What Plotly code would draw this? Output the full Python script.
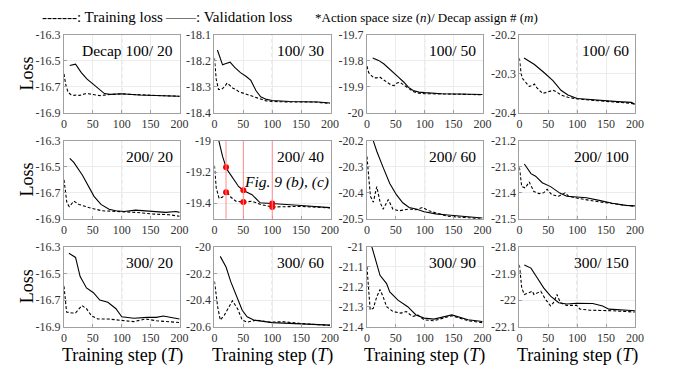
import plotly.graph_objects as go
import numpy as np

# ---------------- data ----------------
labels = ["Decap 100/ 20", "100/ 30", "100/ 50", "100/ 60",
          "200/ 20", "200/ 40", "200/ 60", "200/ 100",
          "300/ 20", "300/ 60", "300/ 90", "300/ 150"]

# 100/20
val_x_100_20 = [10, 20, 30, 40, 50, 60, 70, 80, 100, 130, 160, 190, 200]
val_y_100_20 = [-16.535, -16.525, -16.59, -16.64, -16.677, -16.714, -16.751, -16.757, -16.753, -16.762, -16.766, -16.77, -16.772]
tr_x_100_20 = [0, 3, 7, 12, 17, 22, 27, 32, 37, 42, 47, 52, 57, 62, 70, 80, 100, 130, 160, 190, 200]
tr_y_100_20 = [-16.60, -16.68, -16.74, -16.76, -16.765, -16.762, -16.765, -16.758, -16.752, -16.752, -16.757, -16.76, -16.765, -16.767, -16.763, -16.758, -16.754, -16.762, -16.766, -16.77, -16.773]
# 100/30
val_x_100_30 = [5, 14, 20, 27, 35, 45, 55, 63, 72, 80, 90, 100, 130, 160, 180, 200]
val_y_100_30 = [-18.158, -18.215, -18.21, -18.205, -18.225, -18.245, -18.26, -18.275, -18.315, -18.338, -18.348, -18.352, -18.356, -18.356, -18.358, -18.362]
tr_x_100_30 = [0, 3, 7, 12, 17, 22, 27, 32, 37, 42, 47, 52, 57, 62, 70, 80, 90, 100, 115, 130, 145, 160, 175, 190, 200]
tr_y_100_30 = [-18.19, -18.27, -18.31, -18.31, -18.30, -18.285, -18.295, -18.305, -18.31, -18.318, -18.322, -18.326, -18.33, -18.334, -18.34, -18.348, -18.354, -18.356, -18.358, -18.358, -18.358, -18.357, -18.358, -18.362, -18.363]
# 100/50
val_x_100_50 = [10, 20, 29, 37, 46, 55, 64, 72, 80, 90, 100, 130, 160, 190, 200]
val_y_100_50 = [-19.789, -19.798, -19.811, -19.826, -19.845, -19.863, -19.882, -19.902, -19.914, -19.92, -19.922, -19.926, -19.927, -19.928, -19.929]
tr_x_100_50 = [0, 3, 7, 12, 17, 22, 27, 32, 37, 42, 47, 52, 57, 62, 70, 80, 90, 100, 130, 160, 190, 200]
tr_y_100_50 = [-19.82, -19.845, -19.855, -19.865, -19.865, -19.862, -19.87, -19.878, -19.885, -19.893, -19.895, -19.885, -19.882, -19.89, -19.905, -19.918, -19.924, -19.926, -19.927, -19.928, -19.929, -19.93]
# 100/60
val_x_100_60 = [8, 26, 43, 58, 72, 84, 100, 130, 170, 194, 200]
val_y_100_60 = [-20.259, -20.276, -20.297, -20.317, -20.342, -20.354, -20.363, -20.367, -20.371, -20.373, -20.378]
tr_x_100_60 = [0, 3, 6, 12, 17, 22, 26, 30, 35, 40, 45, 49, 54, 58, 64, 72, 84, 100, 130, 170, 190, 200]
tr_y_100_60 = [-20.26, -20.30, -20.313, -20.322, -20.332, -20.33, -20.326, -20.335, -20.342, -20.35, -20.348, -20.346, -20.343, -20.342, -20.346, -20.354, -20.36, -20.364, -20.368, -20.372, -20.375, -20.377]
# 200/20
val_x_200_20 = [10, 17, 32, 43, 52, 64, 78, 90, 104, 124, 153, 176, 194, 200]
val_y_200_20 = [-16.434, -16.466, -16.565, -16.652, -16.727, -16.789, -16.826, -16.838, -16.843, -16.833, -16.843, -16.85, -16.843, -16.85]
tr_x_200_20 = [0, 5, 9, 17, 26, 43, 66, 101, 124, 153, 182, 200]
tr_y_200_20 = [-16.60, -16.776, -16.806, -16.764, -16.789, -16.813, -16.838, -16.846, -16.85, -16.863, -16.868, -16.88]
# 200/40
val_x_200_40 = [5, 14, 21, 31, 42, 51, 65, 79, 100, 150, 200]
val_y_200_40 = [-18.96, -19.1, -19.18, -19.232, -19.294, -19.32, -19.345, -19.397, -19.401, -19.414, -19.428]
tr_x_200_40 = [0, 3, 8, 14, 21, 28, 37, 51, 65, 79, 100, 150, 200]
tr_y_200_40 = [-19.16, -19.30, -19.37, -19.36, -19.325, -19.36, -19.387, -19.393, -19.387, -19.407, -19.424, -19.42, -19.43]
mark_steps_200_40 = [20, 50, 100]
# 200/60
val_x_200_60 = [8, 17, 28, 39.5, 51, 62, 73, 85, 99, 119, 140, 170, 200]
val_y_200_60 = [-20.18, -20.24, -20.302, -20.364, -20.407, -20.438, -20.456, -20.462, -20.473, -20.481, -20.485, -20.492, -20.497]
tr_x_200_60 = [0, 3, 6, 11, 17, 23, 28, 37, 45, 56, 73, 85, 96, 107, 119, 140, 170, 200]
tr_y_200_60 = [-20.26, -20.35, -20.413, -20.436, -20.376, -20.438, -20.463, -20.426, -20.463, -20.469, -20.462, -20.465, -20.456, -20.469, -20.477, -20.49, -20.495, -20.5]
# 200/100
val_x_200_100 = [8.5, 20, 28, 39.5, 54, 70, 82, 99, 116, 138, 161, 184, 200]
val_y_200_100 = [-21.289, -21.326, -21.336, -21.361, -21.376, -21.401, -21.413, -21.417, -21.419, -21.429, -21.44, -21.448, -21.45]
tr_x_200_100 = [0, 4, 10, 17, 25, 34, 42, 48, 56, 68, 79, 85, 99, 130, 170, 200]
tr_y_200_100 = [-21.302, -21.376, -21.381, -21.358, -21.395, -21.403, -21.4, -21.386, -21.407, -21.413, -21.4, -21.413, -21.42, -21.432, -21.444, -21.452]
# 300/20
val_x_300_20 = [8.5, 20, 28, 39, 51, 62, 76, 90, 100, 121, 144, 160, 172, 200]
val_y_300_20 = [-16.348, -16.38, -16.524, -16.609, -16.645, -16.7, -16.717, -16.765, -16.825, -16.837, -16.83, -16.83, -16.82, -16.842]
tr_x_300_20 = [0, 4.5, 14, 20, 31, 39, 48, 59, 76, 100, 121, 141, 160, 200]
tr_y_300_20 = [-16.596, -16.79, -16.797, -16.797, -16.741, -16.765, -16.82, -16.842, -16.842, -16.85, -16.862, -16.842, -16.855, -16.869]
# 300/60
val_x_300_60 = [10, 20, 28, 40, 48, 56.5, 68, 100, 152, 200]
val_y_300_60 = [-20.072, -20.152, -20.26, -20.393, -20.477, -20.526, -20.55, -20.569, -20.581, -20.588]
tr_x_300_60 = [0, 5.6, 10, 17, 25, 31, 40, 48, 56.5, 73, 96, 118, 152, 200]
tr_y_300_60 = [-20.26, -20.453, -20.55, -20.513, -20.453, -20.405, -20.465, -20.55, -20.566, -20.55, -20.566, -20.562, -20.577, -20.59]
# 300/90
val_x_300_90 = [8.5, 17, 22.6, 34, 39.5, 53.7, 70.6, 85, 99, 116, 147, 175, 200]
val_y_300_90 = [-21.0, -21.085, -21.143, -21.184, -21.226, -21.267, -21.3, -21.341, -21.357, -21.362, -21.341, -21.365, -21.374]
tr_x_300_90 = [0, 3, 5.6, 11, 17, 22.6, 28, 34, 45, 59, 68, 79, 88, 99, 116, 147, 175, 200]
tr_y_300_90 = [-21.1, -21.25, -21.316, -21.308, -21.25, -21.214, -21.25, -21.3, -21.324, -21.332, -21.324, -21.349, -21.341, -21.366, -21.37, -21.345, -21.37, -21.38]
# 300/150
val_x_300_150 = [8.5, 20, 31, 42, 54, 68, 82, 99, 127, 144, 155, 178, 200]
val_y_300_150 = [-21.868, -21.88, -21.917, -21.954, -21.985, -22.01, -22.015, -22.012, -22.013, -22.022, -22.034, -22.038, -22.04]
tr_x_300_150 = [0, 4, 8.5, 17, 22.6, 25, 37, 45, 54, 59, 65, 71, 82, 99, 105, 122, 139, 160, 200]
tr_y_300_150 = [-21.868, -21.954, -21.979, -21.973, -21.967, -21.979, -21.967, -21.997, -22.022, -22.01, -21.979, -22.01, -22.02, -22.02, -22.034, -22.038, -22.038, -22.04, -22.045]

y_ranges = [[-16.9, -16.3], [-18.4, -18.1], [-20.0, -19.7], [-20.4, -20.2],
            [-16.9, -16.3], [-19.5, -19.0], [-20.5, -20.2], [-21.5, -21.2],
            [-16.9, -16.3], [-20.6, -20.0], [-21.4, -21.0], [-22.1, -21.8]]
y_ticks = [["-16.3", "-16.5", "-16.7", "-16.9"], ["-18.1", "-18.2", "-18.3", "-18.4"],
           ["-19.7", "-19.8", "-19.9", "-20"], ["-20.2", "-20.3", "-20.4"],
           ["-16.3", "-16.5", "-16.7", "-16.9"], ["-19", "-19.2", "-19.4"],
           ["-20.2", "-20.3", "-20.4", "-20.5"], ["-21.2", "-21.3", "-21.4", "-21.5"],
           ["-16.3", "-16.5", "-16.7", "-16.9"], ["-20", "-20.2", "-20.4", "-20.6"],
           ["-21", "-21.1", "-21.2", "-21.3", "-21.4"], ["-21.8", "-21.9", "-22", "-22.1"]]
x_ticks = [0, 50, 100, 150, 200]

series = [
    (tr_x_100_20, tr_y_100_20, val_x_100_20, val_y_100_20),
    (tr_x_100_30, tr_y_100_30, val_x_100_30, val_y_100_30),
    (tr_x_100_50, tr_y_100_50, val_x_100_50, val_y_100_50),
    (tr_x_100_60, tr_y_100_60, val_x_100_60, val_y_100_60),
    (tr_x_200_20, tr_y_200_20, val_x_200_20, val_y_200_20),
    (tr_x_200_40, tr_y_200_40, val_x_200_40, val_y_200_40),
    (tr_x_200_60, tr_y_200_60, val_x_200_60, val_y_200_60),
    (tr_x_200_100, tr_y_200_100, val_x_200_100, val_y_200_100),
    (tr_x_300_20, tr_y_300_20, val_x_300_20, val_y_300_20),
    (tr_x_300_60, tr_y_300_60, val_x_300_60, val_y_300_60),
    (tr_x_300_90, tr_y_300_90, val_x_300_90, val_y_300_90),
    (tr_x_300_150, tr_y_300_150, val_x_300_150, val_y_300_150),
]

# ---------------- layout ----------------
W, H = 673, 378
COL_PX = [(62, 180), (215, 333), (370, 488), (525, 643)]
ROW_PX = [(29, 110), (139, 220), (249, 332)]
FONT = "'Liberation Serif', 'Times New Roman', Times, serif"
FRAME = "#a0a0a0"

fig = go.Figure()
layout = dict(width=W, height=H, margin=dict(l=0, r=0, t=0, b=0),
              paper_bgcolor="white", plot_bgcolor="white", showlegend=False,
              font=dict(family=FONT))
shapes, annotations = [], []

for i, (tx, ty, vx, vy) in enumerate(series):
    r, c = divmod(i, 4)
    n = i + 1
    xa = "x" if n == 1 else f"x{n}"
    ya = "y" if n == 1 else f"y{n}"
    fig.add_trace(go.Scatter(x=tx, y=ty, mode="lines", xaxis=xa, yaxis=ya,
                             line=dict(color="black", width=1.1, dash="3px,2px")))
    fig.add_trace(go.Scatter(x=vx, y=vy, mode="lines", xaxis=xa, yaxis=ya,
                             line=dict(color="black", width=1.1)))
    x0, x1 = COL_PX[c]
    y0, y1 = ROW_PX[r]
    tv = [float(t) for t in y_ticks[i]]
    axcommon = dict(showline=True, mirror=True, linecolor=FRAME, linewidth=1,
                    showgrid=True, gridcolor="#ececec", gridwidth=1, zeroline=False,
                    ticks="inside", ticklen=3, tickcolor=FRAME,
                    tickfont=dict(family=FONT, size=12, color="#333333"))
    layout["xaxis" if n == 1 else f"xaxis{n}"] = dict(
        domain=[x0 / W, x1 / W], anchor=ya, range=[0, 201],
        tickvals=x_ticks, ticktext=[str(v) for v in x_ticks], **axcommon)
    layout["yaxis" if n == 1 else f"yaxis{n}"] = dict(
        domain=[1 - y1 / H, 1 - y0 / H], anchor=xa, range=y_ranges[i],
        tickvals=tv, ticktext=y_ticks[i], **axcommon)
    if i == 5:
        for s in mark_steps_200_40:
            shapes.append(dict(type="line", xref=xa, yref=f"{ya} domain", x0=s, x1=s, y0=0, y1=1,
                               line=dict(color="#ff8c8c", width=1), layer="above"))
        mx = mark_steps_200_40 * 2
        my = list(np.interp(mark_steps_200_40, vx, vy)) + list(np.interp(mark_steps_200_40, tx, ty))
        annotations.append(dict(text="<i>Fig. 9 (b), (c)</i>", xref=f"{xa} domain", yref=f"{ya} domain",
                                x=1.0, y=0.47, xanchor="right", yanchor="middle", showarrow=False,
                                font=dict(family=FONT, size=15.5, color="black")))
    else:
        shapes.append(dict(type="line", xref=xa, yref=f"{ya} domain", x0=100, x1=100, y0=0, y1=1,
                           line=dict(color="#b8b8b8", width=1, dash="4px,3px"), layer="below"))
    annotations.append(dict(text=labels[i], xref=f"{xa} domain", yref=f"{ya} domain",
                            x=0.96, y=1 - 16 / 81, xanchor="right", yanchor="middle", showarrow=False,
                            font=dict(family=FONT, size=15.5, color="black")))

# red markers for Fig. 9 (b), (c) drawn last so they sit on top of the red guide lines
fig.add_trace(go.Scatter(x=mx, y=my, mode="markers", xaxis="x6", yaxis="y6",
                         marker=dict(color="#ff0000", size=6, symbol="circle")))

for r, (y0, y1) in enumerate(ROW_PX):
    annotations.append(dict(text="Loss", xref="paper", yref="paper", x=24 / W, y=1 - (y0 + y1) / 2 / H,
                            xanchor="center", yanchor="middle", textangle=-90, showarrow=False,
                            font=dict(family=FONT, size=18, color="black")))
for c, (x0, x1) in enumerate(COL_PX):
    annotations.append(dict(text="Training step (<i>T</i>)", xref="paper", yref="paper",
                            x=(x0 + x1) / 2 / W, y=1 - 362 / H, xanchor="center", yanchor="middle",
                            showarrow=False, font=dict(family=FONT, size=18, color="black")))

annotations.append(dict(text="-------: Training loss", xref="paper", yref="paper", x=38 / W, y=1 - 10 / H,
                        xanchor="left", yanchor="middle", showarrow=False,
                        font=dict(family=FONT, size=15, color="black")))
annotations.append(dict(text="——: Validation loss", xref="paper", yref="paper", x=163 / W, y=1 - 10 / H,
                        xanchor="left", yanchor="middle", showarrow=False,
                        font=dict(family=FONT, size=15, color="black")))
annotations.append(dict(text="*Action space size (<i>n</i>)/ Decap assign # (<i>m</i>)", xref="paper",
                        yref="paper", x=315 / W, y=1 - 11 / H, xanchor="left", yanchor="middle",
                        showarrow=False, font=dict(family=FONT, size=13, color="black")))

layout["shapes"] = shapes
layout["annotations"] = annotations
fig.update_layout(**layout)
fig.write_html("out.html")
